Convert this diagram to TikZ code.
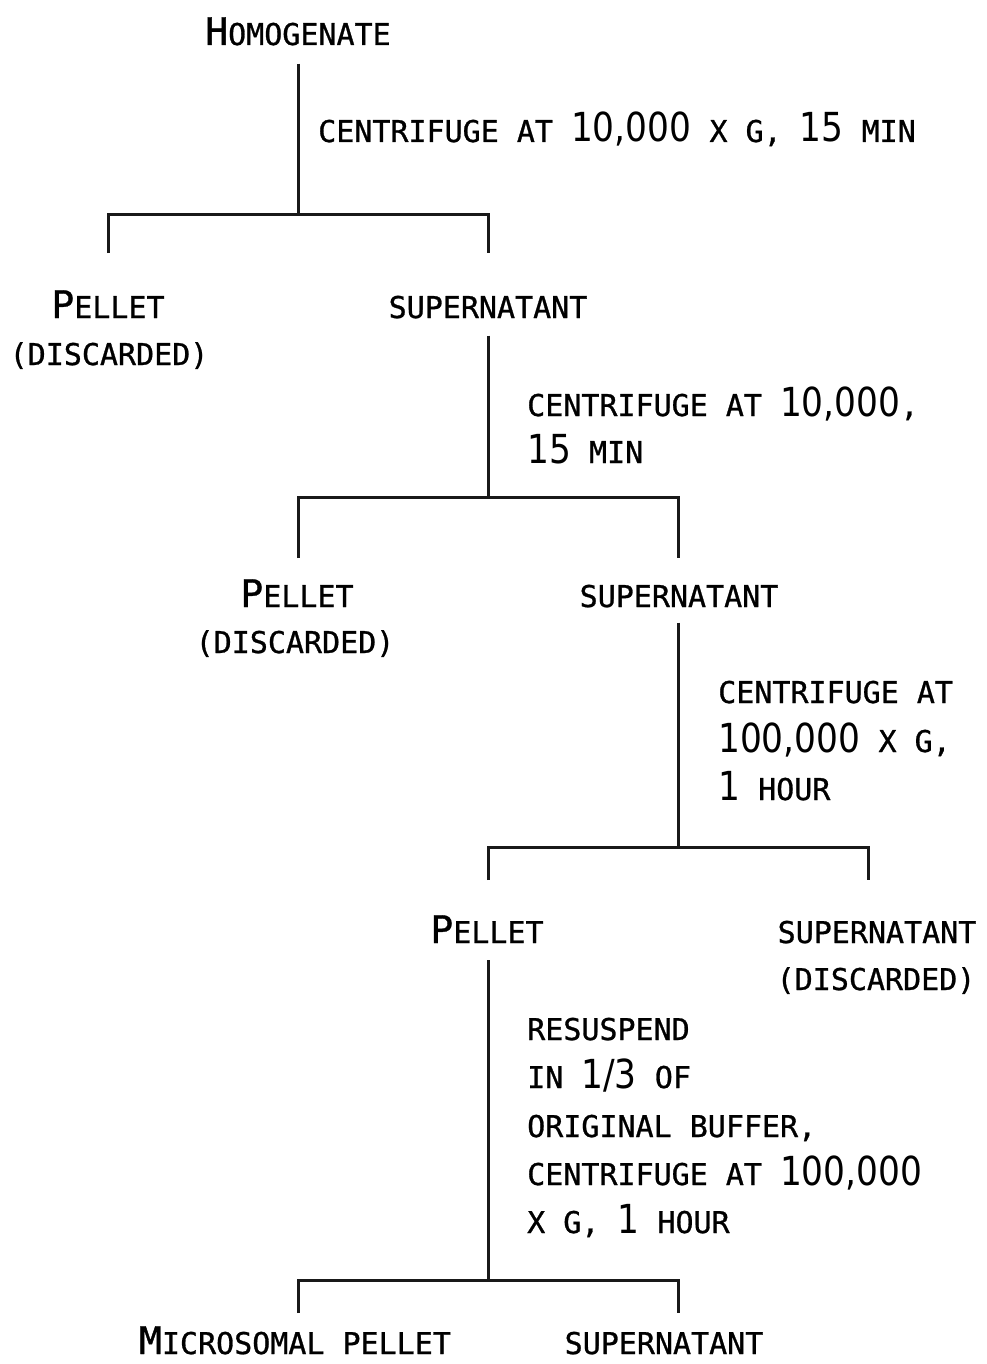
\documentclass[tikz,border=0pt]{standalone}
\usepackage{fontspec}
\setmainfont[FakeBold=0.9,AutoFakeBold=0.9]{DejaVu Sans Mono}
\newfontfamily\numfont[FakeStretch=0.86]{DejaVu Sans}
\newcommand\Bg[1]{{\numfont\mdseries\fontsize{40}{48}\selectfont #1}}
\newcommand\Ini[1]{{\fontsize{38}{48}\selectfont #1}}
\begin{document}
\begin{tikzpicture}[x=1pt,y=-1pt,
  txt/.style={inner sep=0pt,font=\fontsize{30}{48}\bfseries,anchor=base},
  lbl/.style={txt,anchor=base west},
  wire/.style={line width=3pt,black!90}]
\useasboundingbox[fill=white] (0,0) rectangle (986,1364);
% texts
\node[txt] (hom) at (298,45) {\Ini{H}OMOGENATE};
\node[lbl] (c1) at (318,142) {CENTRIFUGE AT \Bg{10,000} X G, \Bg{15} MIN};
\node[txt] (p1) at (108,318) {\Ini{P}ELLET};
\node[txt] (d1) at (109,365) {(DISCARDED)};
\node[txt] (s1) at (488,318) {SUPERNATANT};
\node[lbl] (c2a) at (527,416) {CENTRIFUGE AT \Bg{10,000},};
\node[lbl] (c2b) at (527,463) {\Bg{15} MIN};
\node[txt] (p2) at (297,607) {\Ini{P}ELLET};
\node[txt] (d2) at (295,653) {(DISCARDED)};
\node[txt] (s2) at (679,607) {SUPERNATANT};
\node[lbl] (c3a) at (718,703) {CENTRIFUGE AT};
\node[lbl] (c3b) at (718,752) {\Bg{100,000} X G,};
\node[lbl] (c3c) at (718,800) {\Bg{1} HOUR};
\node[txt] (p3) at (487,943) {\Ini{P}ELLET};
\node[txt] (s3) at (877,943) {SUPERNATANT};
\node[txt] (d3) at (876,990) {(DISCARDED)};
\node[lbl] (c4a) at (527,1040) {RESUSPEND};
\node[lbl] (c4b) at (527,1088) {IN \Bg{1/3} OF};
\node[lbl] (c4c) at (527,1137) {ORIGINAL BUFFER,};
\node[lbl] (c4d) at (527,1185) {CENTRIFUGE AT \Bg{100,000}};
\node[lbl] (c4e) at (527,1233) {X G, \Bg{1} HOUR};
\node[txt] (m4) at (295,1354) {\Ini{M}ICROSOMAL PELLET};
\node[txt] (s4) at (664,1354) {SUPERNATANT};
% junctions
\coordinate (j1) at (298,215); \coordinate (l1) at (108,253); \coordinate (r1) at (488,253);
\coordinate (j2) at (488,497); \coordinate (l2) at (298,558); \coordinate (r2) at (678,558);
\coordinate (j3) at (678,847); \coordinate (l3) at (488,880); \coordinate (r3) at (868,880);
\coordinate (j4) at (488,1280); \coordinate (l4) at (298,1313); \coordinate (r4) at (678,1313);
% connectors
\draw[wire] ([yshift=-18pt]hom.south) -- (j1);
\draw[wire] (l1) |- (j1) -| (r1);
\draw[wire] ([yshift=-17pt]s1.south) -- (j2);
\draw[wire] (l2) |- (j2) -| (r2);
\draw[wire] ([yshift=-15pt]s2.south-|j3) -- (j3);
\draw[wire] (l3) |- (j3) -| (r3);
\draw[wire] ([yshift=-17pt]p3.south-|j4) -- (j4);
\draw[wire] (l4) |- (j4) -| (r4);
\end{tikzpicture}
\end{document}
